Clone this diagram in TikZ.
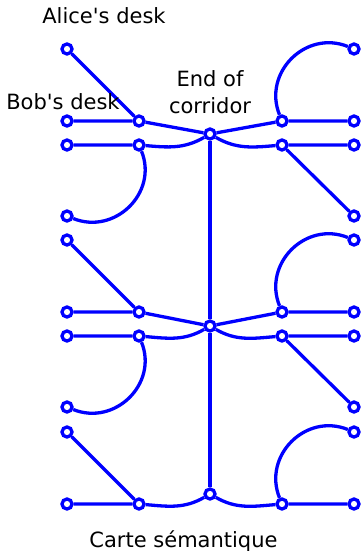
\documentclass[tikz,border=0pt]{standalone}
\usepackage{fontspec}
\setmainfont{DejaVu Sans}
\usepackage{tikz}
\usetikzlibrary{backgrounds}

\begin{document}
\begin{tikzpicture}[x=1pt,y=1pt,
  spot/.style={circle,draw=blue,fill=white,line width=3.3pt,minimum size=10pt,inner sep=0pt},
  link/.style={blue,line width=3.3pt},
  lbl/.style={font=\fontsize{21}{27}\selectfont,inner sep=0pt,anchor=base}]
\useasboundingbox (0,0) rectangle (363,-551);

\node [lbl] (alice) at (104,-24) {Alice\textquotesingle s desk};
\node [lbl] (bob) at (63,-109) {Bob\textquotesingle s desk};
\node [lbl] (endof) at (210,-86) {End of};
\node [lbl] (corridor) at (210,-113) {corridor};
\node [lbl] (carte) at (183.5,-547) {Carte sémantique};

% top group
\node [spot] (a1) at (67,-49) {};
\node [spot] (l1) at (67,-121) {};
\node [spot] (l2) at (67,-145) {};
\node [spot] (l3) at (67,-216) {};
\node [spot] (li1) at (139,-121) {};
\node [spot] (li2) at (139,-145) {};
\node [spot] (c1) at (210,-134) {};
\node [spot] (ri1) at (282,-121) {};
\node [spot] (ri2) at (282,-145) {};
\node [spot] (r0) at (354,-49) {};
\node [spot] (r1) at (354,-121) {};
\node [spot] (r2) at (354,-145) {};
\node [spot] (r3) at (354,-216) {};

% middle group
\node [spot] (l4) at (67,-240) {};
\node [spot] (l5) at (67,-312) {};
\node [spot] (l6) at (67,-336) {};
\node [spot] (l7) at (67,-407) {};
\node [spot] (li5) at (139,-312) {};
\node [spot] (li6) at (139,-336) {};
\node [spot] (c2) at (210,-326) {};
\node [spot] (ri5) at (282,-312) {};
\node [spot] (ri6) at (282,-336) {};
\node [spot] (r4) at (354,-240) {};
\node [spot] (r5) at (354,-312) {};
\node [spot] (r6) at (354,-336) {};
\node [spot] (r7) at (354,-407) {};

% bottom group
\node [spot] (l8) at (67,-432) {};
\node [spot] (l9) at (67,-504) {};
\node [spot] (li9) at (139,-504) {};
\node [spot] (c3) at (210,-494) {};
\node [spot] (ri9) at (282,-504) {};
\node [spot] (r8) at (354,-432) {};
\node [spot] (r9) at (354,-504) {};

\begin{pgfonlayer}{background}
\draw [link] (a1) -- (li1);
\draw [link] (l1) -- (li1) -- (c1) -- (ri1) -- (r1);
\draw [link] (l2) -- (li2) to[out=-5,in=210] (c1) to[out=-30,in=185] (ri2) -- (r2);
\draw [link] (li2) to[out=-68,in=-22,looseness=1.2] (l3);
\draw [link] (ri1) to[out=112,in=158,looseness=1.2] (r0);
\draw [link] (ri2) -- (r3);

\draw [link] (l4) -- (li5);
\draw [link] (l5) -- (li5) -- (c2) -- (ri5) -- (r5);
\draw [link] (l6) -- (li6) to[out=-5,in=210] (c2) to[out=-30,in=185] (ri6) -- (r6);
\draw [link] (li6) to[out=-68,in=-22,looseness=1.2] (l7);
\draw [link] (ri5) to[out=112,in=158,looseness=1.2] (r4);
\draw [link] (ri6) -- (r7);

\draw [link] (l8) -- (li9);
\draw [link] (l9) -- (li9) to[out=-5,in=210] (c3) to[out=-30,in=185] (ri9) -- (r9);
\draw [link] (ri9) to[out=112,in=158,looseness=1.2] (r8);

\draw [link] (c1) -- (c2) -- (c3);
\end{pgfonlayer}

\end{tikzpicture}
\end{document}
